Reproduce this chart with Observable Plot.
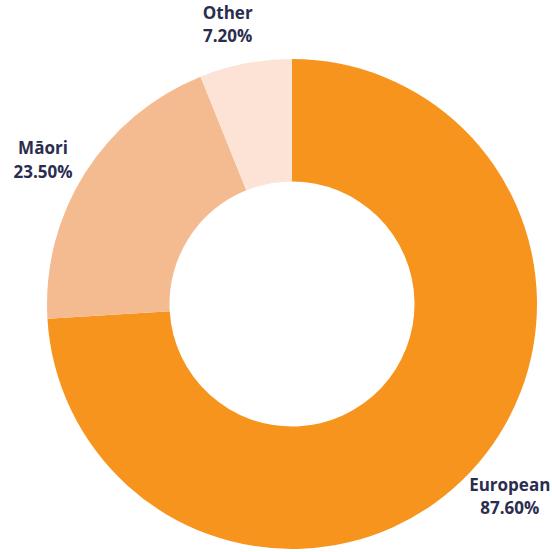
<!DOCTYPE html>
<html><head><meta charset="utf-8">
<script src="https://cdn.jsdelivr.net/npm/d3@7"></script>
<script src="https://cdn.jsdelivr.net/npm/@observablehq/plot@0.6"></script>
<style>html,body{margin:0;padding:0;background:#fff;overflow:hidden}</style>
</head><body><div id="chart"></div>
<script>
const categories = ["European", "Māori", "Other"];
const values = [87.60, 23.50, 7.20];
const valueLabels = ["87.60%", "23.50%", "7.20%"];
const colors = ["#F7941D", "#F5BB90", "#FCE3D5"];

const data = categories.map((c, i) => ({category: c, value: values[i], label: valueLabels[i]}));
const arcs = d3.pie().value(d => d.value).sort(null)(data);

const W = 552, H = 552, cx = 292, cy = 304, R = 245, innerRatio = 0.5;
const labelR = 1.18, labelTurn = -2.0 * Math.PI / 180;

const labelData = arcs.map(a => {
  const m = (a.startAngle + a.endAngle) / 2 + labelTurn;
  return {x: labelR * Math.sin(m), y: labelR * Math.cos(m), text: a.data.category + "\n" + a.data.label};
});

function donut(index, scales) {
  const color = scales.color ?? d3.scaleOrdinal(categories, colors);
  const x0 = scales.x(0), y0 = scales.y(0);
  const r = scales.x(1) - x0;
  const arc = d3.arc().innerRadius(r * innerRatio).outerRadius(r);
  const g = d3.create("svg:g").attr("transform", `translate(${x0},${y0})`);
  g.selectAll("path").data(arcs).join("path")
    .attr("d", arc)
    .attr("fill", d => color(d.data.category));
  return g.node();
}

const chart = Plot.plot({
  width: W, height: H,
  margin: 0,
  style: {overflow: "visible", background: "#fff"},
  x: {domain: [-cx / R, (W - cx) / R], axis: null},
  y: {domain: [-(H - cy) / R, cy / R], axis: null},
  color: {type: "ordinal", domain: categories, range: colors},
  marks: [
    donut,
    Plot.text(labelData, {
      x: "x", y: "y", text: "text",
      fontSize: 17, fontWeight: "bold", fontFamily: "Open Sans",
      fill: "#2B2D4F", lineHeight: 1.38, textAnchor: "middle"
    })
  ]
});
document.getElementById("chart").appendChild(chart);
</script>
</body></html>
